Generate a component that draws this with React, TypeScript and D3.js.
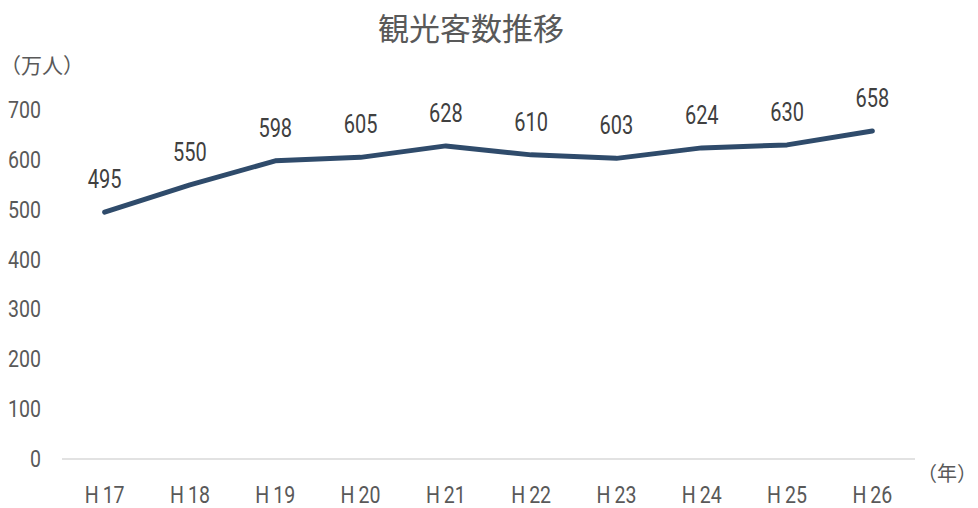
import React, { useEffect, useRef } from "react";
import * as d3 from "d3";

const categories = ["H17", "H18", "H19", "H20", "H21", "H22", "H23", "H24", "H25", "H26"];
const visitors = [495, 550, 598, 605, 628, 610, 603, 624, 630, 658];
const yTicks = [0, 100, 200, 300, 400, 500, 600, 700];
const title = "観光客数推移";
const yUnit = "（万人）";
const xUnit = "（年）";

const W = 978;
const H = 508;
const TEXT = "#595959";
const NUM_FONT = "Roboto, 'Noto Sans', sans-serif";
const CJK_FONT = "'Noto Sans CJK JP', sans-serif";

export default function App() {
  const ref = useRef<SVGSVGElement>(null);
  useEffect(() => {
    const svg = d3.select(ref.current);
    svg.selectAll("*").remove();
    const left = 62, right = 915;
    const x = d3.scaleBand<string>().domain(categories).range([left, right]);
    const y = d3.scaleLinear().domain([0, 700]).range([459, 110]);
    const cx = (c: string) => (x(c) as number) + x.bandwidth() / 2;

    svg.append("rect").attr("width", W).attr("height", H).attr("fill", "#fff");

    svg.append("text").attr("x", 471).attr("y", 40).attr("text-anchor", "middle")
      .attr("font-family", CJK_FONT).attr("font-size", 31).attr("fill", TEXT).text(title);

    svg.append("text").attr("x", 0).attr("y", 73)
      .attr("font-family", CJK_FONT).attr("font-size", 21).attr("fill", TEXT).text(yUnit);
    svg.append("text").attr("x", 977).attr("y", 481).attr("text-anchor", "end")
      .attr("font-family", CJK_FONT).attr("font-size", 20).attr("fill", TEXT).text(xUnit);

    // baseline
    svg.append("line").attr("x1", left).attr("x2", right).attr("y1", y(0)).attr("y2", y(0))
      .attr("stroke", "#d9d9d9").attr("stroke-width", 1.5);

    // y ticks
    svg.append("g").selectAll("text").data(yTicks).join("text")
      .attr("transform", (d) => `translate(41,${y(d) + 8}) scale(0.85,1)`)
      .attr("text-anchor", "end").attr("font-family", NUM_FONT).attr("font-size", 23)
      .attr("fill", TEXT).text((d) => String(d));

    // x ticks
    svg.append("g").selectAll("text").data(categories).join("text")
      .attr("transform", (d) => `translate(${cx(d)},${503}) scale(0.85,1)`)
      .attr("text-anchor", "middle").attr("font-family", NUM_FONT).attr("font-size", 23)
      .attr("fill", TEXT).text((d) => d.replace("H", "H\u2009"));

    const line = d3.line<number>().x((_, i) => cx(categories[i])).y((d) => y(d));
    svg.append("path").datum(visitors).attr("d", line).attr("fill", "none")
      .attr("stroke", "#2f4b6b").attr("stroke-width", 5).attr("stroke-linejoin", "round")
      .attr("stroke-linecap", "round");

    svg.append("g").selectAll("text").data(visitors).join("text")
      .attr("transform", (d, i) => `translate(${cx(categories[i])},${y(d) - 24}) scale(0.8,1)`)
      .attr("text-anchor", "middle").attr("font-family", NUM_FONT).attr("font-size", 25)
      .attr("fill", "#404040").text((d) => String(d));
  }, []);
  return <svg ref={ref} width={W} height={H} style={{ display: "block", position: "absolute", left: 0, top: 0 }} />;
}
